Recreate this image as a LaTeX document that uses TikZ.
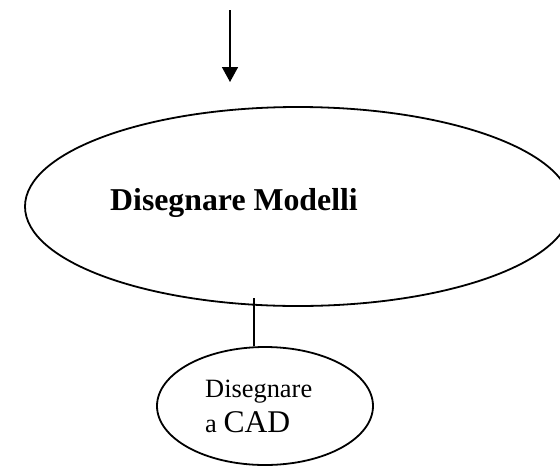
\documentclass[tikz,border=0pt]{standalone}
\usepackage{fontspec}
\setmainfont{Liberation Serif}
\usetikzlibrary{shapes.geometric,arrows.meta}
\begin{document}
\begin{tikzpicture}[x=1pt,y=1pt,
  outline/.style={draw=black,line width=1.8pt},
  oval/.style={outline,ellipse,inner sep=0pt},
  label/.style={inner sep=0pt,anchor=base west}]
\useasboundingbox (0,0) rectangle (560,-467);
\clip (0,0) rectangle (560,-467);
% incoming arrow
\coordinate (in) at (230,-10);
\coordinate (inend) at (230,-82);
\draw[line width=1.6pt,-{Triangle[width=16pt,length=15pt]}] (in) -- (inend);
% main activity
\node[oval,minimum width=546pt,minimum height=199pt] (main) at (298,-206.5) {};
\node[label,font=\bfseries\fontsize{31.8}{36}\selectfont] (maintext) at (110,-210) {Disegnare Modelli};
% sub activity
\node[oval,minimum width=216pt,minimum height=118pt] (cad) at (265,-406) {};
\node[label,font=\fontsize{26.4}{30}\selectfont] (cadtext1) at (205,-397) {Disegnare};
\node[label,font=\fontsize{26.4}{30}\selectfont] (cadtext2) at (205,-432) {a {\fontsize{31.6}{36}\selectfont CAD}};
% link between the two
\coordinate (stem) at (254,-298);
\draw[line width=1.6pt] (stem) -- (stem |- cad.north);
\end{tikzpicture}
\end{document}
